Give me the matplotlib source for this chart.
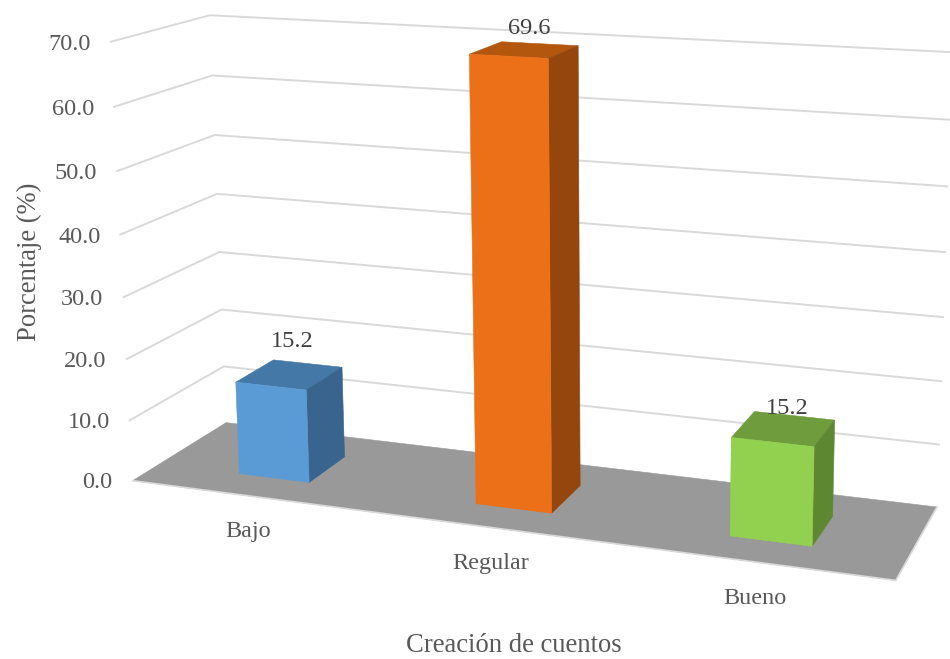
import numpy as np
import matplotlib
matplotlib.use("Agg")
import matplotlib.pyplot as plt
from matplotlib.patches import Polygon

plt.rcParams['font.family'] = ['Liberation Serif', 'DejaVu Serif']

categories = ["Bajo", "Regular", "Bueno"]
values = [15.2, 69.6, 15.2]
value_ticks = [0, 10, 20, 30, 40, 50, 60, 70]
front_colors = ["#5B9BD5", "#EC7018", "#92D050"]
top_colors = ["#4478A6", "#B3570F", "#6F9C3C"]
side_colors = ["#38648D", "#94460D", "#5E8731"]

# camera: world (category, depth, value) -> pixel, solved from the box corners
world_pts = [(0, 0, 0), (0, 1, 0), (3, 1, 0), (3, 0, 0),
             (0, 0, 70), (0, 1, 70), (3, 1, 70),
             (0, 0, 10), (0, 1, 10), (3, 1, 10)]
pixel_pts = [(133, 481), (227, 422), (936, 507), (896, 580),
             (110, 42), (211, 15), (951, 52),
             (130, 420), (222, 367), (940, 445)]


def fit_camera(world, pixel):
    rows = []
    rhs = []
    for (x, y, z), (u, v) in zip(world, pixel):
        rows.append([x, y, z, 1, 0, 0, 0, 0, -u * x, -u * y, -u * z])
        rows.append([0, 0, 0, 0, x, y, z, 1, -v * x, -v * y, -v * z])
        rhs += [u, v]
    p = np.linalg.lstsq(np.array(rows, float), np.array(rhs, float), rcond=None)[0]
    return np.append(p, 1).reshape(3, 4)


cam = fit_camera(world_pts, pixel_pts)


def project(x, y, z):
    u, v, w = cam @ np.array([x, y, z, 1.0])
    return u / w, v / w


def face(pts, color, zorder):
    ax.add_patch(Polygon([project(*p) for p in pts], closed=True, facecolor=color,
                         edgecolor=color, linewidth=0.4, zorder=zorder))


fig = plt.figure(figsize=(9.5, 6.59), dpi=100)
ax = fig.add_axes([0, 0, 1, 1])
ax.set_xlim(0, 950)
ax.set_ylim(659, 0)
ax.axis("off")

# gridlines, side wall + back wall
for t in value_ticks[1:]:
    xs, ys = zip(project(0, 0, t), project(0, 1, t), project(3, 1, t))
    ax.plot(xs, ys, color="#D9D9D9", lw=1.4, zorder=1, solid_joinstyle="miter")
    ax.text(xs[0] - 20, ys[0] + 2.5, "%.1f" % t, ha="right", va="center",
            fontsize=17.5, color="#595959")
x0, y0 = project(0, 0, 0)
ax.text(x0 - 20, y0 + 1.5, "0.0", ha="right", va="center", fontsize=17.5, color="#595959")

# floor
face([(0, 0, 0), (0, 1, 0), (3, 1, 0), (3, 0, 0)], "#999999", 2)
xs, ys = zip(project(0, 0, 0), project(3, 0, 0), project(3, 1, 0))
ax.plot(xs, ys, color="#D9D9D9", lw=1.2, zorder=2)

half_w = 0.152
d0, d1 = 0.28, 0.70
bar_x = [0.505, 1.508, 2.502]
label_offsets = [(3, -32), (6, -21), (4, -19)]
for i, val in enumerate(values):
    a, b = bar_x[i] - half_w, bar_x[i] + half_w
    face([(a, d0, 0), (b, d0, 0), (b, d0, val), (a, d0, val)], front_colors[i], 4)
    face([(a, d0, val), (b, d0, val), (b, d1, val), (a, d1, val)], top_colors[i], 3)
    face([(b, d0, 0), (b, d1, 0), (b, d1, val), (b, d0, val)], side_colors[i], 3)
    tx, ty = project(i + 0.5, 0.5, val)
    dx, dy = label_offsets[i]
    ax.text(tx + dx, ty + dy, "%.1f" % val, ha="center", va="center",
            fontsize=17.5, color="#404040", zorder=6)

cat_pos = [(248, 531), (491, 563), (755, 598)]
for name, (cx, cy) in zip(categories, cat_pos):
    ax.text(cx, cy, name, ha="center", va="center", fontsize=17.4, color="#595959")

ax.text(514, 645, "Creación de cuentos", ha="center", va="center", fontsize=19.2, color="#595959")
ax.text(29, 262, "Porcentaje (%)", ha="center", va="center", rotation=90, fontsize=19.2, color="#595959")

fig.savefig("out.png", dpi=100)
